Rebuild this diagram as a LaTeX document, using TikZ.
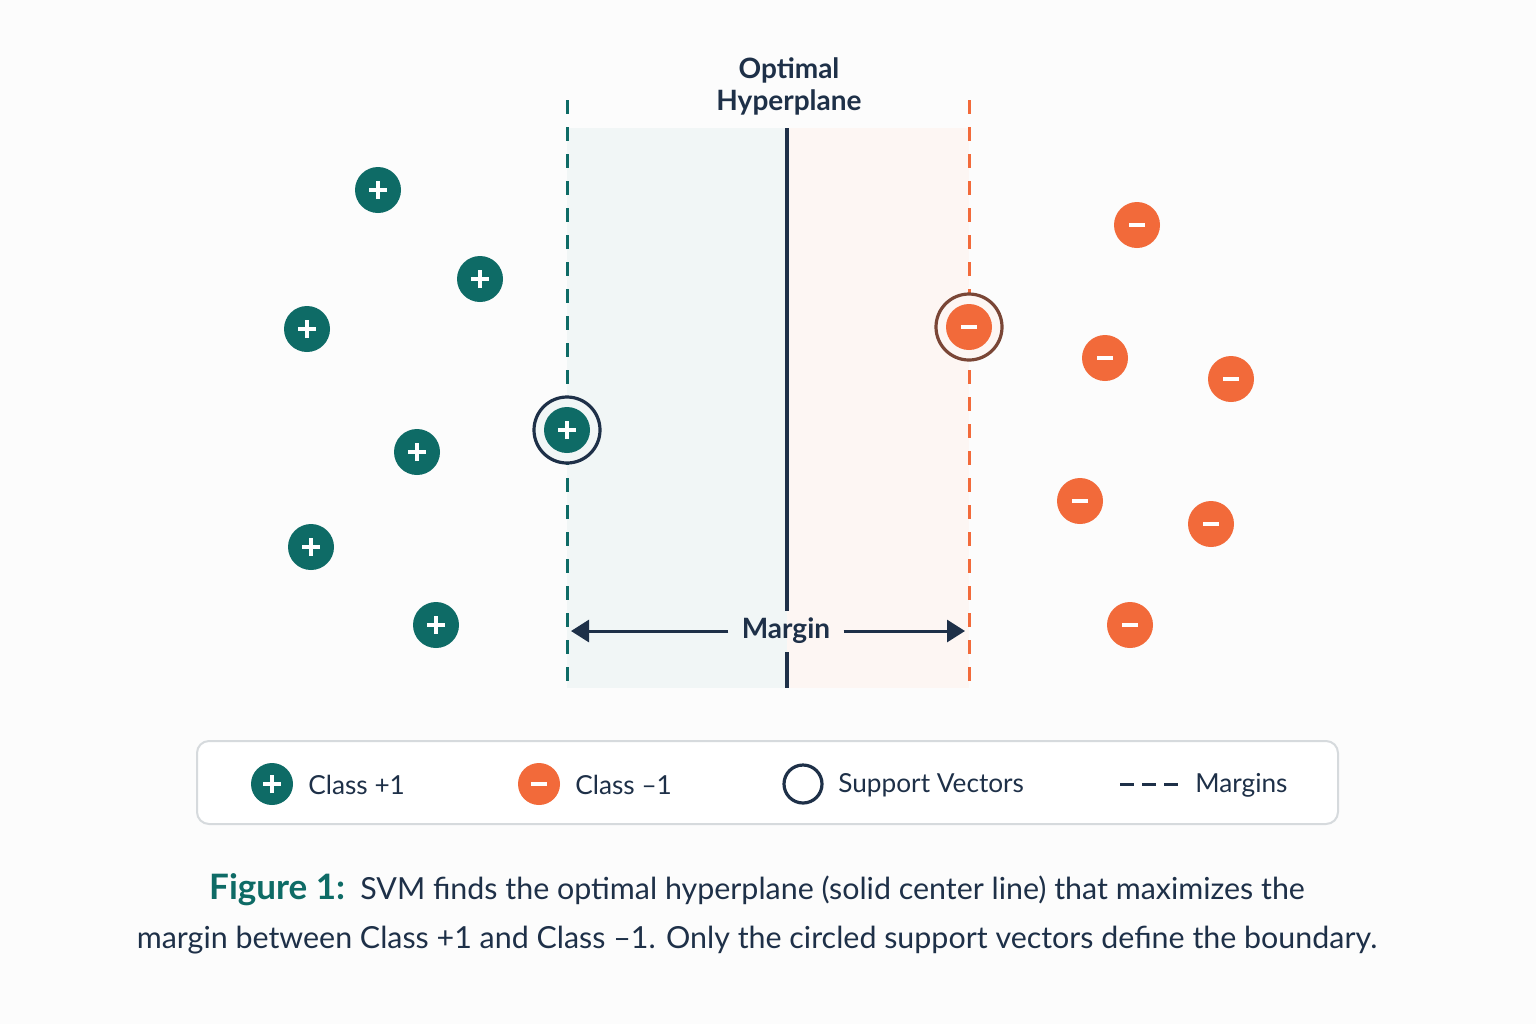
\documentclass[tikz,border=0pt]{standalone}
\usepackage{fontspec}
\setmainfont{Lato}
\usetikzlibrary{arrows.meta}
\definecolor{teal}{HTML}{0E6B66}
\definecolor{orng}{HTML}{F26A3A}
\definecolor{navy}{HTML}{1E3048}
\definecolor{brownring}{HTML}{7A4636}
\definecolor{tealbg}{HTML}{F1F6F6}
\definecolor{orngbg}{HTML}{FDF6F3}
\definecolor{pagebg}{HTML}{FCFCFC}
\definecolor{legborder}{HTML}{D6DADD}
\tikzset{
  x=0.5pt, y=-0.5pt,
  pluspt/.style={circle, fill=teal, minimum size=23pt, inner sep=0pt,
    path picture={\draw[white, line width=2pt]
      ([xshift=-4.5pt]path picture bounding box.center) -- ([xshift=4.5pt]path picture bounding box.center)
      ([yshift=-4.5pt]path picture bounding box.center) -- ([yshift=4.5pt]path picture bounding box.center);}},
  minuspt/.style={circle, fill=orng, minimum size=23pt, inner sep=0pt,
    path picture={\draw[white, line width=2pt]
      ([xshift=-4pt]path picture bounding box.center) -- ([xshift=4pt]path picture bounding box.center);}},
  legplus/.style={pluspt, minimum size=21pt},
  legminus/.style={minuspt, minimum size=21pt},
  svring/.style={circle, draw=#1, line width=1.6pt, minimum size=33pt, inner sep=0pt},
  marginline/.style={draw=#1, line width=1.5pt, dash pattern=on 7pt off 6.5pt},
  lbl/.style={font=\fontsize{14}{16}\selectfont\bfseries, text=navy, inner sep=1pt},
  legtxt/.style={font=\fontsize{13.1}{15}\selectfont, text=navy, anchor=west, inner sep=0pt},
  captxt/.style={font=\fontsize{15.2}{24.5}\selectfont, text=navy, align=center},
  arr/.style={draw=navy, line width=1.5pt, -{Triangle[length=9pt, width=11pt]}},
}
\begin{document}
\begin{tikzpicture}
\useasboundingbox[fill=pagebg] (0,0) rectangle (1536,1024);
% shaded bands
\fill[tealbg] (567,128) rectangle (787,688);
\fill[orngbg] (787,128) rectangle (969,688);
% margin lines
\coordinate (ltop) at (567,100); \coordinate (lbot) at (567,688);
\coordinate (rtop) at (969,100); \coordinate (rbot) at (969,688);
\draw[marginline=teal] (ltop) -- (lbot);
\draw[marginline=orng] (rtop) -- (rbot);
% hyperplane (interrupted by the Margin label)
\coordinate (htop) at (787,128); \coordinate (hbot) at (787,688);
\coordinate (hgap1) at (787,611); \coordinate (hgap2) at (787,652);
\draw[navy, line width=1.6pt] (htop) -- (hgap1) (hgap2) -- (hbot);
\node[lbl, align=center] (hlabel) at (789,86) {Optimal\\Hyperplane};
% margin arrow
\node[lbl, inner xsep=6.5pt, inner ysep=0pt] (mlabel) at (786,631) {Margin};
\coordinate (mleft) at (571,631); \coordinate (mright) at (965,631);
\draw[arr] (mlabel.west) -- (mleft);
\draw[arr] (mlabel.east) -- (mright);
% class +1
\node[pluspt] (p1) at (378,190) {};
\node[pluspt] (p2) at (480,279) {};
\node[pluspt] (p3) at (307,329) {};
\node[pluspt] (p4) at (417,452) {};
\node[pluspt] (p5) at (311,547) {};
\node[pluspt] (p6) at (436,625) {};
\node[svring=navy, fill=tealbg] (sv1) at (567,430) {};
\node[pluspt] (p7) at (567,430) {};
% class -1
\node[minuspt] (m1) at (1137,225) {};
\node[minuspt] (m2) at (1105,358) {};
\node[minuspt] (m3) at (1231,379) {};
\node[minuspt] (m4) at (1080,501) {};
\node[minuspt] (m5) at (1211,524) {};
\node[minuspt] (m6) at (1130,625) {};
\node[svring=brownring, fill=orngbg] (sv2) at (969,327) {};
\node[minuspt] (m7) at (969,327) {};
% legend
\draw[legborder, line width=1pt, fill=white, rounded corners=6pt] (197,741) rectangle (1338,824);
\node[legplus] (lg1) at (272,784) {};
\node[legtxt] (lt1) at (308,785) {Class +1};
\node[legminus] (lg2) at (539,784) {};
\node[legtxt] (lt2) at (575,785) {Class –1};
\node[svring=navy, minimum size=19pt] (lg3) at (803,784) {};
\node[legtxt] (lt3) at (838,785) {Support Vectors};
\coordinate (ld1) at (1120,784); \coordinate (ld2) at (1180,784);
\draw[navy, line width=1.5pt, dash pattern=on 7pt off 4pt] (ld1) -- (ld2);
\node[legtxt] (lt4) at (1195,785) {Margins};
% caption
\node[captxt] (cap) at (757,914) {{\color{teal}\bfseries\fontsize{17.5}{24.5}\selectfont Figure 1:}\enspace SVM finds the optimal hyperplane (solid center line) that maximizes the\\margin between Class +1 and Class –1. Only the circled support vectors define the boundary.};
\end{tikzpicture}
\end{document}
